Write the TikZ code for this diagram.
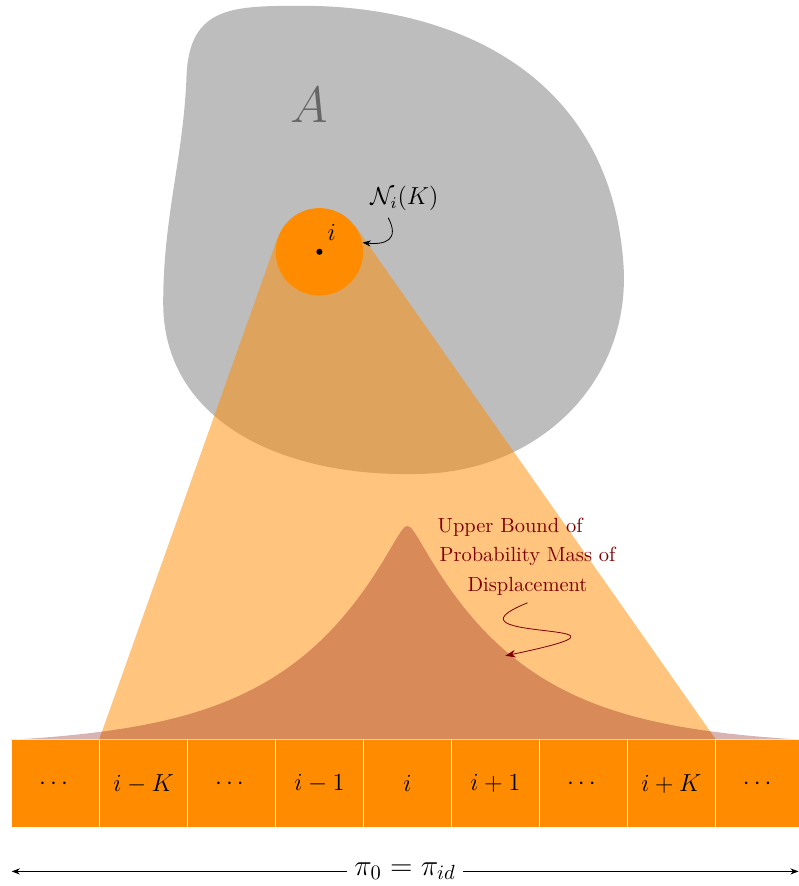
\documentclass[tikz,border=0pt]{standalone}
\usepackage{amsmath,amssymb}
\usepackage{tikz}
\usetikzlibrary{arrows.meta,positioning,calc}
\usepackage{xcolor}
\definecolor{cellorange}{RGB}{255,140,0}
\definecolor{massred}{RGB}{128,0,0}
\definecolor{regiongray}{RGB}{189,189,189}

\begin{document}
\begin{tikzpicture}[
    cellbox/.style={draw=white, fill=cellorange, minimum width=\cw cm, minimum height=\cw cm, inner sep=0pt, font=\large},
    every node/.style={font=\large}]
        \def\cw{1.509}
        \useasboundingbox (-0.2,-1.0) rectangle (13.5,14.2);

        % region A
        \fill[regiongray] (2.6,9.0) .. controls (2.6,10.5) and (2.95,11.5) .. (3.0,12.9)
          .. controls (3.05,14.1) and (3.8,14.1) .. (5.0,14.1)
          .. controls (7.5,14.1) and (10.3,13.0) .. (10.5,9.6)
          .. controls (10.6,7.6) and (9.0,6.1) .. (7.0,6.07)
          .. controls (4.6,6.0) and (2.6,7.0) .. cycle;
        \node[font=\Huge, text=black!60] (lblA) at (5.11,12.40) {$A$};

        % cells
        \foreach \k/\lab in {1/\cdots,2/i-K,3/\cdots,4/i-1,5/i,6/i+1,7/\cdots,8/i+K,9/\cdots} {
          \node[cellbox] (c\k) at ({(\k-0.5)*\cw},{0.5*\cw}) {$\lab$};
        }

        % neighbourhood and cone
        \node[circle, minimum size=1.5cm, inner sep=0pt] (nb) at (5.28,9.88) {};
        \coordinate (tl) at (tangent cs:node=nb,point={(c2.north west)},solution=2);
        \coordinate (tr) at (tangent cs:node=nb,point={(c8.north east)},solution=1);
        \fill[cellorange, opacity=0.5] (c2.north west) -- (tl) -- (tr) -- (c8.north east) -- cycle;

        % displacement mass
        \fill[massred, opacity=0.3] (c1.north west)
          -- plot[domain=-6.79:6.79, samples=241] ({6.79+\x},{1.509+3.67*(exp(-(sqrt(\x*\x+0.01)-0.1)/1.89)-0.029)/0.971})
          -- (c9.north east) -- cycle;

        \fill[cellorange] (nb.center) circle (0.75);
        \fill (nb.center) circle (1.5pt);
        \node (il) at (5.49,10.22) {$i$};
        \node (nk) at (6.74,10.80) {$\mathcal{N}_i(K)$};
        \draw[-{Stealth[length=4pt]}] ([xshift=-0.28cm]nk.south) .. controls +(0.2,-0.38) and +(0.39,-0.04) .. (nb.12);

        % label for the mass
        \node[text=massred, align=center, font=\normalsize] (ub) at (8.85,4.65)
          {Upper Bound of\hspace*{1.7em}\\[2.5pt] Probability Mass of\\[2.5pt] Displacement};
        \coordinate (tip) at (8.47,2.95);
        \draw[massred, -{Stealth[length=5pt]}] (ub.south) .. controls +(-1.71,-0.69) and +(2.98,0.62) .. (tip);

        % permutation axis
        \node[font=\Large] (pi) at (6.75,-0.75) {$\pi_0=\pi_{id}$};
        \coordinate (lend) at (0,-0.75);
        \coordinate (rend) at (13.5,-0.75);
        \draw[-{Stealth[length=4pt]}] (pi) -- (lend);
        \draw[-{Stealth[length=4pt]}] (pi) -- (rend);
      \end{tikzpicture}
\end{document}
